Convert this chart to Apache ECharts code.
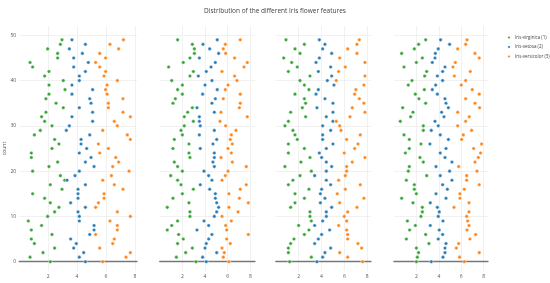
<!DOCTYPE html>
<html><head><meta charset="utf-8">
<script src="https://cdn.jsdelivr.net/npm/echarts@6/dist/echarts.min.js"></script>
<style>html,body{margin:0;padding:0;background:#fff}#c{width:550px;height:283px}</style>
</head><body><div id="c"></div>
<script>
const title = "Distribution of the different Iris flower features";
const seriesNames = ["Iris-virginica (1)", "Iris-setosa (2)", "Iris-versicolor (3)"];
const yTicks = [0, 10, 20, 30, 40, 50];
const xTicks = [2, 4, 6, 8];
const counts = [0,1,2,3,4,5,6,7,8,9,10,11,12,13,14,15,16,17,18,19,20,21,22,23,24,25,26,27,28,29,30,31,32,33,34,35,36,37,38,39,40,41,42,43,44,45,46,47,48,49];

// Feature panel 1
const p1Virginica = [2.15,0.75,1.65,2.45,1.05,0.84,2.27,0.84,1.55,0.63,1.97,2.45,2.75,2.15,1.76,0.93,2.96,2.15,3.15,2.85,0.93,2.06,2.66,0.84,0.84,2.27,2.75,2.45,1.05,1.46,2.27,1.76,1.55,1.85,3.05,2.55,1.85,2.06,3.17,2.06,3.05,1.76,2.06,0.93,0.75,2.66,2.66,1.97,2.85,2.96];
const p1Setosa = [4.58,4.16,4.46,3.77,3.95,3.56,4.88,5.18,5.18,4.16,4.16,4.07,4.58,3.56,4.07,4.07,4.07,4.58,3.31,3.86,4.16,5.18,4.58,4.97,4.16,4.67,4.28,4.28,4.88,3.26,3.47,5.08,3.65,5.08,4.16,4.97,4.88,3.65,5.08,3.65,4.16,4.16,4.58,3.77,4.78,3.77,4.37,3.47,4.58,3.65];
const p1Versicolor = [5.78,7.39,7.69,5.57,6.47,6.58,5.29,6.79,6.79,6.28,7.69,6.79,5.29,5.48,5.87,5.87,7.18,6.58,5.78,6.38,7.60,6.47,6.88,6.68,5.57,6.17,5.48,7.69,7.48,5.78,6.79,6.58,7.69,7.18,6.17,6.17,7.18,6.08,5.98,6.08,6.79,5.87,5.98,5.57,5.29,5.98,5.57,6.88,6.28,7.21];

// Feature panel 2
const p2Virginica = [3.20,1.47,2.29,2.88,1.58,2.08,1.67,0.67,1.06,1.58,2.67,2.67,0.67,2.58,1.17,2.00,2.97,1.88,1.58,0.97,2.00,1.58,1.29,2.67,2.58,1.17,2.58,1.29,2.00,1.88,2.17,2.97,2.17,2.47,2.88,1.17,1.38,2.00,1.58,2.00,1.06,2.67,2.97,0.79,2.08,2.67,3.06,3.06,2.88,1.58];
const p2Setosa = [4.11,3.79,5.03,4.00,4.11,4.32,4.61,3.29,4.32,3.91,4.82,5.03,5.20,5.03,4.91,4.91,4.41,3.58,4.61,4.32,3.91,4.82,4.70,4.82,4.82,3.58,4.70,5.03,3.50,4.82,3.58,3.50,3.50,4.82,3.29,4.61,4.91,3.79,5.08,4.00,4.61,3.41,4.11,4.53,4.91,3.50,5.20,4.41,3.82,5.08];
const p2Versicolor = [6.11,5.61,5.70,5.50,6.23,5.91,7.82,5.91,5.82,6.32,5.50,6.91,6.11,7.82,7.03,6.11,7.11,7.64,5.50,5.79,6.03,7.64,6.41,5.41,6.32,6.03,6.41,6.23,6.32,6.73,5.82,5.32,7.73,5.41,7.03,7.11,5.61,7.11,5.79,6.03,6.82,6.61,5.50,7.44,7.73,6.61,5.82,5.61,5.79,7.11];

// Feature panel 3
const p3Virginica = [1.21,3.11,1.10,1.10,1.30,1.59,2.50,2.90,2.00,3.11,2.99,2.99,1.30,1.68,2.50,1.68,2.90,1.10,1.50,2.12,3.11,0.80,2.20,2.99,1.10,2.50,1.10,1.88,1.68,1.50,0.80,1.10,2.61,1.30,2.32,2.61,2.50,1.68,2.90,2.50,2.12,2.99,1.10,1.88,1.39,0.69,2.12,1.68,2.50,0.89];
const p3Setosa = [3.60,4.10,4.30,4.80,3.40,3.72,4.01,4.71,3.40,4.10,4.42,4.42,4.89,3.90,4.30,3.90,4.01,4.80,4.42,3.40,4.42,4.89,4.42,4.01,3.81,4.42,5.00,4.10,4.10,4.80,4.10,5.00,4.42,5.00,3.60,5.00,4.30,3.52,3.72,5.09,4.51,4.89,3.72,4.80,3.52,3.81,4.89,4.10,4.30,3.81];
const p3Versicolor = [7.60,6.29,5.59,7.51,7.19,6.29,6.29,6.20,5.50,6.20,5.99,6.29,7.10,5.59,7.71,5.38,6.08,7.39,5.50,6.08,6.20,6.20,6.69,7.80,5.99,6.90,7.19,6.20,7.39,5.70,5.59,5.29,6.49,7.80,6.69,7.71,7.31,6.90,7.01,7.71,5.29,7.80,5.50,6.08,7.80,5.59,7.10,6.29,7.10,7.31];

// Feature panel 4
const p4Virginica = [2.00,2.09,2.20,2.00,3.12,1.11,2.83,1.40,1.91,1.20,2.41,2.53,2.53,1.70,0.69,2.00,1.82,1.82,1.11,2.92,1.28,1.37,2.62,2.32,1.02,1.37,2.41,1.37,0.90,2.62,2.62,0.57,1.49,1.70,0.78,2.83,2.23,1.91,2.71,1.28,1.61,2.74,2.92,0.90,2.00,2.53,0.69,1.82,2.20,2.83];
const p4Setosa = [3.33,4.37,4.55,4.55,4.64,3.95,4.34,4.04,3.24,4.37,3.95,4.04,3.87,3.24,4.64,3.75,4.76,4.34,5.17,4.13,4.96,3.75,5.17,4.55,4.13,4.64,3.21,4.85,4.13,3.33,3.95,3.66,4.46,4.25,4.85,4.64,4.55,3.87,3.42,3.72,4.34,3.87,4.34,4.55,3.42,3.66,3.69,3.95,4.96,4.16];
const p4Versicolor = [6.27,5.85,7.60,5.56,5.77,6.77,7.28,6.51,6.69,6.57,6.48,6.69,5.35,6.69,5.88,5.88,6.27,7.60,6.48,6.48,7.40,5.77,7.22,7.52,7.72,7.10,7.81,6.03,6.18,6.92,5.68,6.39,6.71,5.68,7.63,7.22,6.39,7.60,6.98,6.00,6.39,5.38,6.80,5.26,5.47,7.60,7.22,5.68,6.39,6.51];

const panels = [
  [p1Virginica, p1Setosa, p1Versicolor],
  [p2Virginica, p2Setosa, p2Versicolor],
  [p3Virginica, p3Setosa, p3Versicolor],
  [p4Virginica, p4Setosa, p4Versicolor]
];
const colors = ['#2ca02c', '#1f77b4', '#ff7f0e'];

// layout (pixels)
const gridLeft = [19.2, 159.7, 275.8, 393.9];
const gridWidth = [117.8, 95.3, 95.2, 94.1];
const xMax = [8.15, 8.41, 8.33, 8.38];
const FONT = '"Open Sans", "DejaVu Sans", sans-serif';

const grids = [], xAxes = [], yAxes = [], series = [];
panels.forEach((p, k) => {
  grids.push({left: gridLeft[k], width: gridWidth[k], top: 35.3, height: 226.4, containLabel: false});
  xAxes.push({
    type: 'value', gridIndex: k, min: 0, max: xMax[k], interval: 2,
    axisLine: {show: true, onZero: false, lineStyle: {color: '#777', width: 1.3}},
    axisTick: {show: false},
    axisLabel: {margin: 12, fontSize: 5, color: '#555', fontFamily: FONT,
      formatter: v => (xTicks.indexOf(v) >= 0 ? String(v) : '')},
    splitLine: {show: false}
  });
  yAxes.push({
    type: 'value', gridIndex: k, min: 0, max: 50, interval: 10,
    axisLine: {show: false}, axisTick: {show: false},
    axisLabel: {show: k === 0, margin: 3, fontSize: 5, color: '#555', fontFamily: FONT,
      formatter: v => (yTicks.indexOf(v) >= 0 ? String(v) : '')},
    splitLine: {show: true, lineStyle: {color: '#eeeeee', width: 0.8}},
    name: k === 0 ? 'count' : '', nameLocation: 'middle', nameGap: 12, nameRotate: 90,
    nameTextStyle: {fontSize: 5, color: '#555', fontFamily: FONT}
  });
  p.forEach((vals, s) => {
    series.push({
      type: 'scatter', name: seriesNames[s], xAxisIndex: k, yAxisIndex: k,
      symbol: 'circle', symbolSize: 3.6, z: 3,
      itemStyle: {color: colors[s], borderColor: '#ffffff', borderWidth: 0.5, opacity: 0.95},
      data: vals.map((v, i) => [v, counts[i]])
    });
  });
});
// background grids: full plot area (slightly beyond the 0..50 range) for the vertical grid lines
panels.forEach((p, k) => {
  const g = grids.length;
  grids.push({left: gridLeft[k], width: gridWidth[k], top: 26, bottom: 283 - 271, containLabel: false, z: 0});
  xAxes.push({
    type: 'value', gridIndex: g, min: 0, max: xMax[k], interval: 2, z: 0,
    axisLine: {show: false}, axisTick: {show: false}, axisLabel: {show: false},
    splitLine: {show: true, showMinLine: false, showMaxLine: false, lineStyle: {color: '#eeeeee', width: 0.8}}
  });
  yAxes.push({
    type: 'value', gridIndex: g, min: 0, max: 1, z: 0,
    axisLine: {show: false}, axisTick: {show: false}, axisLabel: {show: false},
    splitLine: {show: false}
  });
});

const chart = echarts.init(document.getElementById('c'), null, {renderer: 'canvas'});
chart.setOption({
  animation: false,
  backgroundColor: '#ffffff',
  color: colors,
  title: {text: title, left: 'center', top: 3,
    textStyle: {fontSize: 6.5, fontWeight: 'normal', color: '#444', fontFamily: FONT}},
  legend: {
    data: seriesNames, orient: 'vertical', left: 501, top: 29.5,
    itemWidth: 4, itemHeight: 4, itemGap: 3.5, icon: 'circle',
    textStyle: {fontSize: 4.5, color: '#444', fontFamily: FONT, padding: [0, 0, 0, -1]}
  },
  grid: grids, xAxis: xAxes, yAxis: yAxes, series: series
});
</script></body></html>
